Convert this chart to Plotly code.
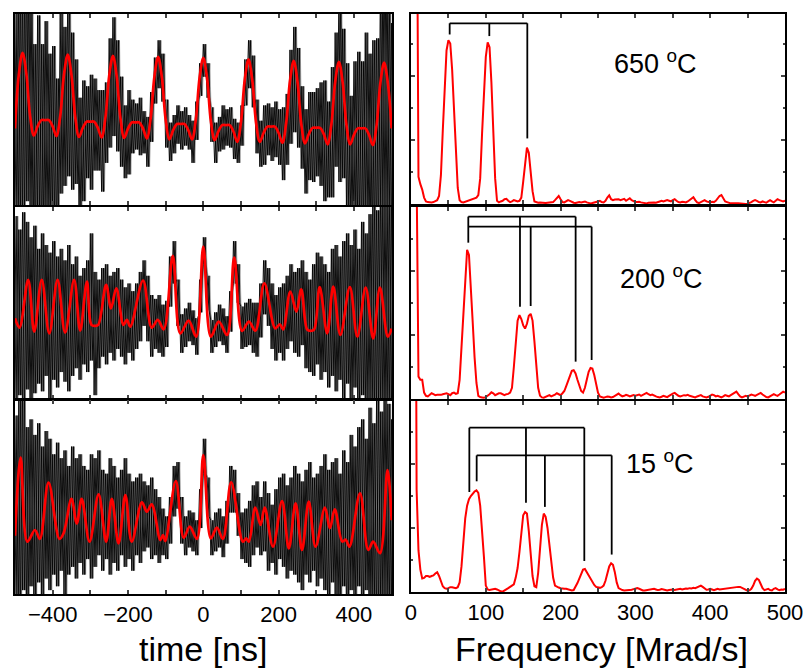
import numpy as np
import plotly.graph_objects as go

# ---------------- DATA ----------------
time_grid = np.arange(-500, 501, 10)          # ns, grid of the noise envelopes
freq_grid = np.arange(0, 500.01, 2.5)         # Mrad/s

# 650 C : fitted curve (on time_grid) and noisy-data envelope
fit_650 = [40, 68, 79.5, 68.7, 46.7, 36.3, 41.1, 44.3, 44.3, 44.3, 41.1,
           36.0, 46.2, 68.0, 78.6, 67.8, 45.8, 35.5, 40.3, 43.5, 43.5,
           43.5, 40.3, 35.3, 45.5, 67.3, 77.9, 67.2, 45.3, 35.0, 39.9,
           43.1, 43.1, 43.1, 39.9, 34.8, 45.0, 66.8, 77.4, 66.6, 44.6,
           34.3, 39.1, 42.3, 42.3, 42.3, 39.1, 34.3, 44.5, 66.3, 76.9,
           66.0, 43.9, 33.9, 38.4, 41.7, 41.7, 41.7, 38.4, 33.0, 43.3,
           65.3, 76.0, 65.2, 43.1, 33.0, 37.6, 40.9, 40.9, 40.9, 37.6,
           32.5, 42.8, 64.6, 75.3, 64.5, 42.4, 32.2, 37.0, 40.3, 40.3,
           40.3, 37.0, 31.7, 42.1, 64.0, 74.8, 64.0, 41.9, 31.7, 36.6,
           40.0, 40.0, 40.0, 36.6, 31.3, 41.6, 63.6, 74.3, 63.6, 40.0]
noise_650_hi = [100, 113, 110, 124, 109, 84, 99, 84, 96, 79,
                83, 66, 101, 93, 107, 90, 76, 56, 65, 62,
                68, 66, 60, 60, 64, 87, 98, 86, 67, 52,
                60, 55, 53, 56, 49, 46, 59, 77, 86, 79,
                55, 43, 47, 52, 49, 51, 47, 44, 54, 74,
                84, 74, 51, 43, 46, 52, 50, 51, 45, 43,
                52, 76, 86, 78, 55, 44, 52, 53, 51, 54,
                50, 51, 58, 81, 93, 82, 62, 50, 59, 59,
                61, 64, 65, 54, 72, 90, 110, 92, 74, 57,
                75, 80, 75, 90, 79, 86, 87, 114, 134, 112, 95]
noise_650_lo = [-10, -8, -5, 2, -5, -22, -4, -16, -6, -11,
                -4, -12, 6, 10, 15, 8, 11, -6, 2, 14,
                8, 18, 18, 7, 22, 30, 36, 28, 20, 14,
                16, 27, 29, 26, 27, 20, 33, 53, 61, 54,
                30, 23, 27, 32, 29, 31, 29, 22, 34, 57,
                67, 56, 33, 22, 28, 29, 31, 30, 24, 22,
                31, 52, 61, 51, 27, 20, 21, 26, 23, 25,
                21, 13, 21, 32, 38, 30, 19, 6, 13, 12,
                15, 10, 2, 4, 4, 20, 12, 14, 0, -6,
                -8, -8, -12, -5, -18, -19, -16, -4, -5, -8, -18]

# 200 C : fitted curve (turning points) and noisy-data envelope
fit_200_t = [-500, -488, -465, -449, -429, -409, -387, -367, -343, -327,
             -309, -297, -287, -279, -258, -245, -231, -212, -203, -194,
             -160, -137, -121, -105, -81, -61, -39, -19, 0, 20,
             41, 63, 82, 103, 121, 138, 162, 191, 203, 212,
             231, 247, 260, 276, 285, 294, 309, 329, 345, 364,
             389, 409, 431, 451, 469, 490, 500]
fit_200 = [42.0, 37.1, 61.9, 35.0, 61.9, 34.1, 61.9, 34.5, 61.9, 35.5,
           61.0, 38.5, 38.0, 38.5, 59.3, 47.1, 57.5, 38.5, 41.1, 37.6,
           61.5, 37.1, 41.1, 36.2, 74.4, 34.1, 40.7, 32.4, 79.2, 32.4,
           40.2, 33.3, 73.5, 35.4, 40.2, 35.5, 60.1, 36.7, 38.8, 36.2,
           55.8, 45.4, 57.0, 36.0, 35.4, 36.0, 58.1, 34.1, 58.4, 33.3,
           58.1, 32.4, 57.9, 31.5, 57.9, 32.4, 36.5]
noise_200_hi = [95, 88, 97, 92, 84, 90, 78, 86, 80, 76,
                82, 74, 78, 72, 80, 70, 74, 64, 68, 72,
                86, 66, 62, 68, 70, 64, 66, 68, 62, 58,
                60, 56, 60, 66, 72, 64, 54, 52, 54, 49,
                51, 74, 82, 62, 44, 47, 50, 46, 42, 62,
                84, 64, 41, 45, 49, 47, 43, 56, 82, 70,
                48, 50, 52, 50, 50, 60, 72, 68, 60, 54,
                58, 60, 64, 70, 66, 68, 72, 66, 62, 70,
                76, 74, 70, 66, 78, 80, 74, 82, 86, 80,
                88, 78, 92, 86, 96, 104, 98, 110, 100, 108, 104]
noise_200_lo = [-5, 2, -8, 5, -3, 3, 8, 4, 12, 0,
                10, 6, 14, 9, 4, 12, 16, 10, 18, 14,
                20, 2, 16, 22, 18, 24, 20, 26, 22, 18,
                24, 20, 26, 30, 38, 30, 22, 26, 24, 22,
                27, 48, 60, 38, 24, 27, 30, 28, 23, 45,
                70, 46, 24, 27, 30, 28, 24, 35, 60, 50,
                26, 27, 28, 24, 22, 32, 44, 38, 26, 20,
                24, 20, 26, 30, 24, 22, 28, 16, 14, 12,
                18, 10, 14, 6, 12, 4, 10, 0, 8, -2,
                6, -4, 2, -6, 0, -8, -4, -6, -10, -8, -5]

# 15 C : fitted curve (turning points) and noisy-data envelope
fit_15_t = [-500, -485, -467, -447, -434, -411, -382, -371, -350, -336,
            -323, -302, -278, -258, -243, -225, -207, -190, -163, -150,
            -137, -114, -107, -101, -73, -52, -36, -17, 0, 20,
            36, 52, 74, 105, 114, 121, 138, 152, 163, 185,
            209, 227, 245, 262, 280, 298, 323, 336, 349, 369,
            378, 388, 416, 438, 451, 469, 489, 500]
fit_15 = [30.0, 70.3, 27.0, 33.0, 28.4, 57.4, 28.4, 31.3, 49.0, 36.4,
          49.0, 27.0, 51.4, 27.0, 49.0, 26.1, 51.0, 27.0, 47.3, 42.4,
          46.2, 27.8, 30.4, 27.3, 58.2, 29.0, 34.7, 28.4, 71.6, 28.7,
          34.2, 28.4, 57.6, 27.0, 28.7, 27.0, 44.5, 35.6, 44.5, 24.4,
          47.9, 23.5, 46.7, 22.7, 47.6, 24.4, 44.5, 33.9, 43.6, 27.0,
          28.0, 24.4, 51.9, 22.7, 27.0, 21.0, 63.9, 38.0]
noise_15_hi = [92, 100, 104, 86, 90, 82, 88, 76, 84, 80,
               72, 78, 70, 74, 66, 76, 70, 72, 66, 64,
               72, 70, 74, 64, 62, 70, 66, 60, 64, 70,
               62, 58, 60, 62, 58, 56, 60, 54, 50, 44,
               40, 50, 66, 68, 50, 40, 43, 42, 38, 54,
               80, 60, 38, 42, 44, 40, 48, 66, 64, 52,
               42, 44, 48, 56, 58, 50, 58, 52, 46, 54,
               60, 62, 56, 60, 66, 62, 58, 64, 68, 60,
               62, 66, 72, 64, 68, 70, 62, 74, 68, 82,
               76, 86, 90, 80, 96, 88, 100, 94, 102, 98, 90]
noise_15_lo = [-6, -10, 2, -8, 4, -4, 6, -2, 8, 2,
               10, 4, 12, 0, 10, 14, 8, 16, 10, 18,
               8, 14, 20, 12, 18, 10, 16, 12, 20, 14,
               18, 12, 20, 16, 22, 24, 18, 20, 16, 20,
               18, 26, 40, 44, 26, 20, 24, 22, 20, 34,
               62, 40, 20, 22, 24, 19, 26, 42, 42, 30,
               18, 16, 14, 20, 24, 20, 22, 12, 16, 10,
               18, 14, 8, 12, 10, 6, 2, 10, 6, 12,
               4, 8, 2, -4, 6, 0, -6, 4, -8, 2,
               -6, 4, -8, 2, -10, -4, -10, -6, -2, -10, -6]

# Fourier spectra (on freq_grid)
spec_650 = [40, 36, 25, 12, 0.85, 0.62, 0.45, 0.2, 0.08, 0.06, 0.05, 0.05, 0.06, 0.08, 0.12, 0.25, 0.9, 2.3, 3.8, 4.8,
            5.12, 5.02, 4.2, 2.9, 1.5, 0.5, 0.12, 0.06, 0.05, 0.07, 0.08, 0.1, 0.12, 0.15, 0.18, 0.2, 0.28, 0.8, 2.2, 3.6,
            4.6, 5.05, 4.9, 3.8, 2.2, 0.8, 0.1, 0.05, 0.08, 0.1, 0.15, 0.16, 0.1, 0.06, 0.08, 0.12, 0.1, 0.08, 0.1, 0.2,
            0.7, 1.35, 1.76, 1.6, 1.0, 0.4, 0.08, 0.05, 0.04, 0.05, 0.04, 0.03, 0.03, 0.04, 0.05, 0.04, 0.06, 0.12, 0.2, 0.25,
            0.15, 0.06, 0.05, 0.08, 0.12, 0.1, 0.06, 0.04, 0.03, 0.05, 0.06, 0.05, 0.07, 0.08, 0.05, 0.03, 0.02, 0.03, 0.04, 0.06,
            0.08, 0.1, 0.06, 0.05, 0.1, 0.2, 0.27, 0.15, 0.12, 0.14, 0.15, 0.15, 0.12, 0.14, 0.16, 0.1, 0.15, 0.18, 0.12, 0.08,
            0.06, 0.06, 0.07, 0.05, 0.04, 0.03, 0.02, 0.04, 0.05, 0.06, 0.05, 0.04, 0.05, 0.08, 0.1, 0.08, 0.1, 0.12, 0.1, 0.08,
            0.12, 0.15, 0.1, 0.06, 0.05, 0.07, 0.06, 0.05, 0.08, 0.12, 0.18, 0.21, 0.12, 0.05, 0.03, 0.06, 0.1, 0.12, 0.08, 0.06,
            0.05, 0.07, 0.06, 0.1, 0.18, 0.25, 0.28, 0.18, 0.08, 0.06, 0.03, 0.02, 0.02, 0.03, 0.02, 0.02, 0.01, 0.01, 0.01, 0.0,
            0.01, 0.03, 0.06, 0.1, 0.12, 0.1, 0.06, 0.05, 0.08, 0.06, 0.04, 0.08, 0.12, 0.08, 0.05, 0.1, 0.15, 0.12, 0.1, 0.08,
            0.1]
spec_200 = [40, 36, 25, 7, 0.7, 0.6, 0.6, 0.2, 0.1, 0.08, 0.12, 0.18, 0.15, 0.12, 0.13, 0.12, 0.13, 0.15, 0.17, 0.18,
            0.15, 0.12, 0.18, 0.2, 0.16, 0.18, 0.6, 1.6, 2.8, 3.9, 4.66, 4.5, 3.6, 2.4, 1.3, 0.5, 0.1, 0.06, 0.05, 0.04,
            0.06, 0.1, 0.15, 0.21, 0.18, 0.12, 0.15, 0.18, 0.18, 0.16, 0.12, 0.15, 0.16, 0.2, 0.35, 1.0, 1.9, 2.45, 2.62, 2.5,
            2.3, 2.2, 2.35, 2.6, 2.66, 2.45, 1.8, 1.0, 0.35, 0.1, 0.05, 0.04, 0.06, 0.1, 0.12, 0.08, 0.1, 0.14, 0.18, 0.16,
            0.12, 0.18, 0.25, 0.4, 0.55, 0.75, 0.88, 0.9, 0.8, 0.6, 0.4, 0.25, 0.2, 0.35, 0.6, 0.85, 0.97, 0.95, 0.75, 0.45,
            0.2, 0.08, 0.05, 0.04, 0.06, 0.08, 0.07, 0.05, 0.06, 0.1, 0.14, 0.17, 0.12, 0.08, 0.1, 0.13, 0.11, 0.08, 0.1, 0.12,
            0.1, 0.12, 0.14, 0.1, 0.13, 0.16, 0.19, 0.15, 0.12, 0.14, 0.1, 0.08, 0.06, 0.05, 0.07, 0.1, 0.08, 0.06, 0.1, 0.14,
            0.17, 0.19, 0.14, 0.1, 0.08, 0.1, 0.12, 0.11, 0.13, 0.1, 0.08, 0.06, 0.05, 0.08, 0.1, 0.12, 0.08, 0.06, 0.05, 0.07,
            0.1, 0.14, 0.12, 0.08, 0.1, 0.07, 0.05, 0.08, 0.12, 0.1, 0.08, 0.12, 0.16, 0.2, 0.23, 0.15, 0.08, 0.05, 0.08, 0.1,
            0.08, 0.1, 0.14, 0.12, 0.1, 0.13, 0.17, 0.19, 0.14, 0.1, 0.06, 0.05, 0.08, 0.12, 0.15, 0.12, 0.1, 0.14, 0.2, 0.23,
            0.2]
spec_15 = [40, 32, 20, 3.2, 1.3, 0.7, 0.42, 0.44, 0.5, 0.5, 0.47, 0.5, 0.52, 0.58, 0.62, 0.5, 0.3, 0.18, 0.12, 0.1,
           0.12, 0.15, 0.15, 0.13, 0.12, 0.15, 0.3, 0.8, 1.56, 2.3, 2.7, 2.9, 3.0, 3.08, 3.14, 3.18, 3.1, 2.7, 2.0, 1.1,
           0.2, 0.08, 0.06, 0.08, 0.1, 0.1, 0.08, 0.04, 0.02, 0.01, 0.04, 0.08, 0.12, 0.16, 0.2, 0.24, 0.45, 0.75, 1.25, 1.9,
           2.4, 2.5, 2.45, 1.9, 1.25, 0.5, 0.18, 0.15, 0.6, 1.5, 2.1, 2.45, 2.35, 2.0, 1.45, 0.9, 0.45, 0.2, 0.16, 0.14,
           0.12, 0.1, 0.1, 0.1, 0.08, 0.06, 0.05, 0.06, 0.15, 0.28, 0.42, 0.58, 0.7, 0.72, 0.62, 0.5, 0.4, 0.3, 0.22, 0.16,
           0.14, 0.13, 0.15, 0.2, 0.35, 0.6, 0.8, 0.9, 0.85, 0.62, 0.3, 0.12, 0.08, 0.06, 0.05, 0.05, 0.06, 0.05, 0.07, 0.09,
           0.1, 0.12, 0.1, 0.07, 0.05, 0.05, 0.06, 0.08, 0.07, 0.09, 0.1, 0.08, 0.06, 0.07, 0.09, 0.08, 0.06, 0.05, 0.06, 0.07,
           0.08, 0.06, 0.07, 0.09, 0.1, 0.08, 0.1, 0.11, 0.1, 0.12, 0.11, 0.13, 0.12, 0.14, 0.17, 0.2, 0.16, 0.1, 0.07, 0.08,
           0.1, 0.08, 0.06, 0.08, 0.1, 0.08, 0.09, 0.1, 0.11, 0.1, 0.12, 0.12, 0.13, 0.14, 0.15, 0.16, 0.16, 0.13, 0.08, 0.05,
           0.04, 0.05, 0.1, 0.2, 0.35, 0.42, 0.38, 0.25, 0.12, 0.06, 0.08, 0.1, 0.06, 0.05, 0.1, 0.12, 0.08, 0.06, 0.08, 0.07,
           0.1]

# Frequency triplet brackets: (bar level, [(leg frequency, leg end level), ...])
brackets_650 = [(5.65, [(51.7, 5.30), (104.7, 5.25), (155.5, 2.05)])]
brackets_200 = [(5.70, [(76.6, 4.885), (145.7, 2.885), (220.1, 1.167)]),
                (5.385, [(76.6, 5.385), (160.0, 2.906), (241.5, 1.219)])]
brackets_15 = [(5.135, [(78.0, 3.125), (153.7, 2.79), (231.7, 0.97)]),
               (4.27, [(87.8, 3.46), (179.0, 2.66), (268.3, 1.17)])]

temperatures = ["650", "200", "15"]
temp_label_pos = [(327, 4.44), (335, 3.81), (333, 4.06)]

time_ticks = [-400, -200, 0, 200, 400]
time_tick_labels = ["\u2212400", "\u2212200", "0", "200", "400"]
freq_ticks = [0, 100, 200, 300, 400, 500]
freq_tick_labels = ["0", "100", "200", "300", "400", "500"]

x_title_left = "time [ns]"
x_title_right = "Frequency [Mrad/s]"

# ---------------- FIGURE ----------------
FONT = "Liberation Sans, Arial, sans-serif"
RED = "#ff0000"

left_x_dom = [0.01868, 0.48817]
right_x_dom = [0.51183, 0.97758]
left_y_dom = [[0.69357, 0.97982], [0.40359, 0.69133], [0.11211, 0.40209]]
right_y_dom = [[0.69507, 0.97907], [0.40359, 0.69058], [0.11510, 0.40060]]
right_y_top = [5.94, 6.0, 5.97]

fig = go.Figure()


def zig(t, a, b, shift):
    t = np.asarray(t, dtype=float)
    xs = np.empty(2 * len(t))
    ys = np.empty(2 * len(t))
    xs[0::2] = t + shift
    xs[1::2] = t + shift + 5
    ys[0::2] = a
    ys[1::2] = b
    return xs, ys


noise_styles = [  # (shift, first, width, colour)
    (0.0, "hi", 0.9, "black"),
    (0.0, "lo", 0.9, "black"),
    (2.5, "hi", 0.6, "rgba(0,0,0,0.55)"),
    (2.5, "lo", 0.6, "rgba(0,0,0,0.55)"),
]

left_sets = [
    (time_grid, fit_650, noise_650_hi, noise_650_lo),
    (fit_200_t, fit_200, noise_200_hi, noise_200_lo),
    (fit_15_t, fit_15, noise_15_hi, noise_15_lo),
]
for i, (ft, fv, hi, lo) in enumerate(left_sets):
    ax = str(i + 1)
    for shift, first, w, col in noise_styles:
        a, b = (hi, lo) if first == "hi" else (lo, hi)
        xs, ys = zig(time_grid, a, b, shift)
        fig.add_trace(go.Scatter(x=xs, y=ys, mode="lines",
                                 line=dict(color=col, width=w),
                                 xaxis="x" + ax, yaxis="y" + ax,
                                 hoverinfo="skip", showlegend=False))
    fig.add_trace(go.Scatter(x=ft, y=fv, mode="lines",
                             line=dict(color=RED, width=2.7, shape="spline", smoothing=1.0),
                             xaxis="x" + ax, yaxis="y" + ax, showlegend=False))

spectra = [spec_650, spec_200, spec_15]
brackets = [brackets_650, brackets_200, brackets_15]
for i in range(3):
    ax = str(i + 4)
    fig.add_trace(go.Scatter(x=freq_grid, y=spectra[i], mode="lines",
                             line=dict(color=RED, width=2),
                             xaxis="x" + ax, yaxis="y" + ax, showlegend=False))
    bx, by = [], []
    for level, legs in brackets[i]:
        fs = [f for f, _ in legs]
        bx += [min(fs), max(fs), None]
        by += [level, level, None]
        for f, end in legs:
            bx += [f, f, None]
            by += [level, end, None]
    fig.add_trace(go.Scatter(x=bx, y=by, mode="lines",
                             line=dict(color="black", width=1.8),
                             xaxis="x" + ax, yaxis="y" + ax,
                             hoverinfo="skip", showlegend=False))

axis_base = dict(showline=True, linewidth=2, linecolor="black", mirror="ticks",
                 ticks="inside", tickwidth=2, ticklen=4, showgrid=False,
                 zeroline=False, ticklabeloverflow="allow",
                 tickfont=dict(family=FONT, size=22, color="black"))

layout = dict(width=803, height=669, margin=dict(l=0, r=0, t=0, b=0, autoexpand=False),
              paper_bgcolor="white", plot_bgcolor="white", showlegend=False,
              font=dict(family=FONT, color="black"))

for i in range(3):
    n = str(i + 1) if i > 0 else ""
    layout["xaxis" + n] = dict(axis_base, domain=left_x_dom, range=[-500, 501],
                               anchor="y" + str(i + 1), tickmode="array",
                               tickvals=time_ticks, ticktext=time_tick_labels,
                               minor=dict(ticks="inside", ticklen=4, tickwidth=2,
                                          tickmode="linear", tick0=0, dtick=100),
                               showticklabels=(i == 2))
    layout["yaxis" + n] = dict(axis_base, domain=left_y_dom[i], range=[0, 100],
                               anchor="x" + str(i + 1), ticks="", mirror=True,
                               showticklabels=False)
for i in range(3):
    n = str(i + 4)
    layout["xaxis" + n] = dict(axis_base, domain=right_x_dom, range=[0, 500],
                               anchor="y" + n, tickmode="array",
                               tickvals=freq_ticks, ticktext=freq_tick_labels,
                               minor=dict(ticks="inside", ticklen=4, tickwidth=2,
                                          tickmode="linear", tick0=0, dtick=50),
                               showticklabels=(i == 2))
    layout["yaxis" + n] = dict(axis_base, domain=right_y_dom[i], range=[0, right_y_top[i]],
                               anchor="x" + n, tickmode="linear", tick0=0, dtick=2,
                               minor=dict(ticks="inside", ticklen=2, tickwidth=2, dtick=1, tick0=0),
                               showticklabels=False)

annotations = []
for i, temp in enumerate(temperatures):
    fx, fy = temp_label_pos[i]
    annotations.append(dict(x=fx, y=fy, xref="x" + str(i + 4), yref="y" + str(i + 4),
                            text=temp + " <sup>o</sup>C", showarrow=False,
                            xanchor="center", yanchor="middle",
                            font=dict(family=FONT, size=27, color="black")))
annotations.append(dict(x=203 / 803, y=0, xref="paper", yref="paper",
                        text=x_title_left, showarrow=False, xanchor="center", yanchor="bottom",
                        borderpad=0, font=dict(family=FONT, size=34, color="black")))
annotations.append(dict(x=601 / 803, y=0, xref="paper", yref="paper",
                        text=x_title_right, showarrow=False, xanchor="center", yanchor="bottom",
                        borderpad=0, font=dict(family=FONT, size=34, color="black")))
layout["annotations"] = annotations

fig.update_layout(**layout)
fig.write_html("out.html", config={"displayModeBar": False},
               post_script="document.body.style.margin='0';document.body.style.overflow='hidden';")
